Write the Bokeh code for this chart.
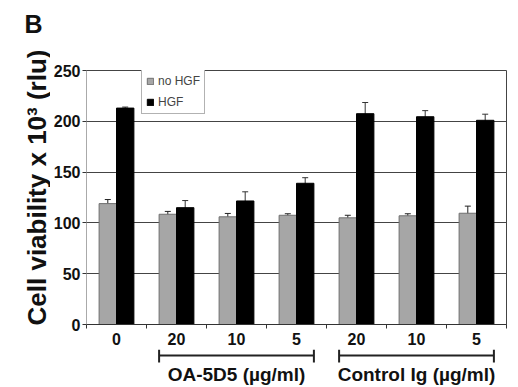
import math
from bokeh.plotting import figure
from bokeh.models import Range1d, FixedTicker, Whisker, ColumnDataSource, Legend, LegendItem, TeeHead
from bokeh.layouts import column, row
from bokeh.embed import file_html
from bokeh.resources import INLINE
from bokeh.core.properties import value

categories = ["0", "20", "10", "5", "20", "10", "5"]
no_hgf = [119, 108.5, 106, 107.5, 105, 107, 109.5]
no_hgf_err = [4, 2.8, 3.3, 1.5, 2.5, 2, 7]
hgf = [213, 115, 121.6, 139, 207.5, 204.5, 201]
hgf_err = [1, 7, 9, 5.5, 11, 6, 6]
group_labels = ["OA-5D5 (\u00b5g/ml)", "Control Ig (\u00b5g/ml)"]
group_first = [1, 4]
group_last = [3, 6]
y_ticks = [0, 50, 100, 150, 200, 250]
y_label = "Cell viability x 10\u00b3 (rlu)"
panel_label = "B"

FONT = "Liberation Sans"
TOTAL_H = 387
SW = 50          # left strip width
PW = 460         # main plot width
H1 = 349
H2 = TOTAL_H - H1
BL = 35
BR = 4
BW = 0.29

n = len(categories)
centers = [i + 0.5 for i in range(n)]
x_gray = [c - BW / 2 for c in centers]
x_black = [c + BW / 2 for c in centers]

src = ColumnDataSource(dict(
    xg=x_gray, xb=x_black, g=no_hgf, b=hgf,
    gl=[v - e for v, e in zip(no_hgf, no_hgf_err)],
    gu=[v + e for v, e in zip(no_hgf, no_hgf_err)],
    bl=[v - e for v, e in zip(hgf, hgf_err)],
    bu=[v + e for v, e in zip(hgf, hgf_err)],
))

# ---- left strip: panel letter and y-axis title
s = figure(width=SW, height=TOTAL_H, x_range=Range1d(0, SW), y_range=Range1d(TOTAL_H, 0),
           output_backend="svg", toolbar_location=None, x_axis_location=None, y_axis_location=None,
           min_border_left=0, min_border_right=0, min_border_top=0, min_border_bottom=0)
s.outline_line_color = None
s.grid.visible = False
s.text(x=[24], y=[9], text=[panel_label], text_font=value(FONT), text_font_style="bold",
       text_font_size="25px", text_align="left", text_baseline="top", text_color="#111111")
s.text(x=[36], y=[187], text=[y_label], angle=math.pi / 2, text_font=value(FONT), text_font_style="bold",
       text_font_size="26px", text_align="center", text_baseline="middle", text_color="#111111")

# ---- main plot
p = figure(width=PW, height=H1, x_range=Range1d(0, n), y_range=Range1d(0, 250),
           output_backend="svg", toolbar_location=None,
           min_border_left=BL, min_border_right=BR, min_border_top=70, min_border_bottom=H1 - 324)

p.outline_line_color = "#444444"
p.outline_line_width = 1
p.xgrid.grid_line_color = None
p.ygrid.grid_line_color = "#444444"
p.ygrid.grid_line_width = 1
p.ygrid.ticker = FixedTicker(ticks=y_ticks)

rg = p.vbar(x="xg", top="g", width=BW, source=src, fill_color="#a6a6a6", line_color="#707070", line_width=1)
rb = p.vbar(x="xb", top="b", width=BW, source=src, fill_color="#000000", line_color="#000000", line_width=1)

wg = Whisker(base="xg", lower="gl", upper="gu", source=src, line_color="#222222", line_width=1,
             upper_head=TeeHead(size=6, line_color="#222222", line_width=1),
             lower_head=TeeHead(size=6, line_color="#222222", line_width=1))
wb = Whisker(base="xb", lower="bl", upper="bu", source=src, line_color="#333333", line_width=1,
             upper_head=TeeHead(size=6, line_color="#333333", line_width=1),
             lower_head=TeeHead(size=6, line_color="#000000", line_width=1))
p.add_layout(wg)
p.add_layout(wb)

p.xaxis.ticker = FixedTicker(ticks=centers, minor_ticks=list(range(n + 1)))
p.xaxis.major_label_overrides = {c: lab for c, lab in zip(centers, categories)}
p.xaxis.major_tick_line_color = None
p.xaxis.minor_tick_out = 4
p.xaxis.minor_tick_in = 0
p.xaxis.minor_tick_line_color = "#333333"
p.xaxis.axis_line_color = "#333333"
p.xaxis.major_label_standoff = 2
p.xaxis.major_label_text_font = FONT
p.xaxis.major_label_text_font_style = "bold"
p.xaxis.major_label_text_font_size = "16px"
p.xaxis.major_label_text_color = "#111111"

p.yaxis.ticker = FixedTicker(ticks=y_ticks)
p.yaxis.minor_tick_line_color = None
p.yaxis.major_tick_out = 4
p.yaxis.major_tick_in = 0
p.yaxis.major_tick_line_color = "#333333"
p.yaxis.axis_line_color = "#aaaaaa"
p.yaxis.major_label_standoff = 2
p.yaxis.major_label_text_font = FONT
p.yaxis.major_label_text_font_style = "bold"
p.yaxis.major_label_text_font_size = "16px"
p.yaxis.major_label_text_color = "#111111"

legend = Legend(items=[LegendItem(label="no HGF", renderers=[rg]), LegendItem(label="HGF", renderers=[rb])],
                location=(55, 210), label_text_font=FONT, label_text_font_size="12px",
                glyph_width=8, glyph_height=8, label_standoff=4, padding=4, spacing=7,
                label_height=13, border_line_color="#666666", border_line_width=1,
                background_fill_alpha=1, margin=0)
p.add_layout(legend, "center")

# ---- lower panel: brackets and group labels
q = figure(width=PW, height=H2, x_range=Range1d(0, n), y_range=Range1d(H2, 0),
           output_backend="svg", toolbar_location=None, x_axis_location=None, y_axis_location=None,
           min_border_left=BL, min_border_right=BR, min_border_top=0, min_border_bottom=0)
q.outline_line_color = None
q.grid.visible = False

bx0 = [x_gray[a] - BW / 2 for a in group_first]
bx1 = [x_black[b] + BW / 2 for b in group_last]
gc = [(centers[a] + centers[b]) / 2 for a, b in zip(group_first, group_last)]
m = len(bx0)
q.segment(x0=bx0, x1=bx1, y0=[6] * m, y1=[6] * m, line_color="#222222", line_width=2)
q.segment(x0=bx0, x1=bx0, y0=[0] * m, y1=[13] * m, line_color="#222222", line_width=2)
q.segment(x0=bx1, x1=bx1, y0=[0] * m, y1=[13] * m, line_color="#222222", line_width=2)
q.text(x=gc, y=[25] * m, text=group_labels, text_font=value(FONT), text_font_style="bold",
       text_font_size="19px", text_align="center", text_baseline="middle", text_color="#111111")

layout = row(s, column(p, q, spacing=0), spacing=0)
open("out.html", "w").write(file_html(layout, INLINE))
